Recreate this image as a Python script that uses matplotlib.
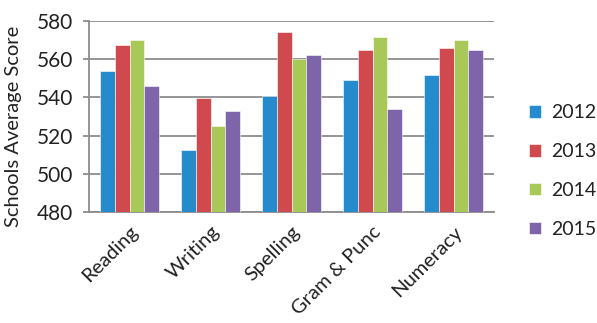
import matplotlib
matplotlib.use("Agg")
import matplotlib.pyplot as plt
import numpy as np

categories = ["Reading", "Writing", "Spelling", "Gram & Punc", "Numeracy"]
years = ["2012", "2013", "2014", "2015"]
scores_2012 = [553.7, 512.2, 540.6, 549.1, 551.7]
scores_2013 = [567.4, 539.8, 574.4, 564.8, 565.7]
scores_2014 = [570.0, 525.0, 560.0, 571.8, 570.0]
scores_2015 = [545.8, 532.7, 562.2, 533.8, 564.8]
yticks = [480, 500, 520, 540, 560, 580]

colors = ["#268bcc", "#d0494f", "#a8c858", "#7e65aa"]
series = [scores_2012, scores_2013, scores_2014, scores_2015]

plt.rcParams["font.family"] = ["Lato", "DejaVu Sans"]
txt = "#222222"

fig = plt.figure(figsize=(5.97, 3.23), dpi=100)
ax = fig.add_axes([89 / 597, 1 - 212 / 323, (494 - 89) / 597, (212 - 21) / 323])

x = np.arange(len(categories))
w = 0.185
for i, (vals, c, lab) in enumerate(zip(series, colors, years)):
    ax.bar(x + (i - 1.5) * w, np.array(vals) - 480, bottom=480, width=w,
           color=c, label=lab, edgecolor="white", linewidth=0.4, zorder=3)

ax.set_ylim(480, 580)
ax.set_xlim(-0.5, len(categories) - 0.5)
ax.set_yticks(yticks)
ax.set_yticklabels([str(t) for t in yticks], fontsize=15, color=txt)
ax.yaxis.grid(True, color="#8c8c8c", linewidth=1.3, zorder=0)
ax.set_xticks(x)
ax.set_xticklabels(categories, rotation=45, ha="right", rotation_mode="anchor",
                   fontsize=14.5, color=txt)
ax.tick_params(axis="x", length=0, pad=8)
ax.tick_params(axis="y", length=4.5, width=1.3, color="#8c8c8c", pad=7)
for s in ["top", "right"]:
    ax.spines[s].set_visible(False)
for s in ["left", "bottom"]:
    ax.spines[s].set_color("#8c8c8c")
    ax.spines[s].set_linewidth(1.3)
ax.set_ylabel("Schools Average Score", fontsize=14.5, color=txt, labelpad=5)
ax.yaxis.set_label_coords(-0.165, 0.45)

handles, labels = ax.get_legend_handles_labels()
leg = fig.legend(handles, labels, loc="center left",
                 bbox_to_anchor=(529 / 597, 1 - 171 / 323),
                 bbox_transform=fig.transFigure, frameon=False,
                 fontsize=14, handlelength=0.62, handleheight=0.62,
                 handletextpad=0.5, labelspacing=1.12, borderaxespad=0,
                 borderpad=0)
for t in leg.get_texts():
    t.set_color(txt)

fig.savefig("out.png", dpi=100)
